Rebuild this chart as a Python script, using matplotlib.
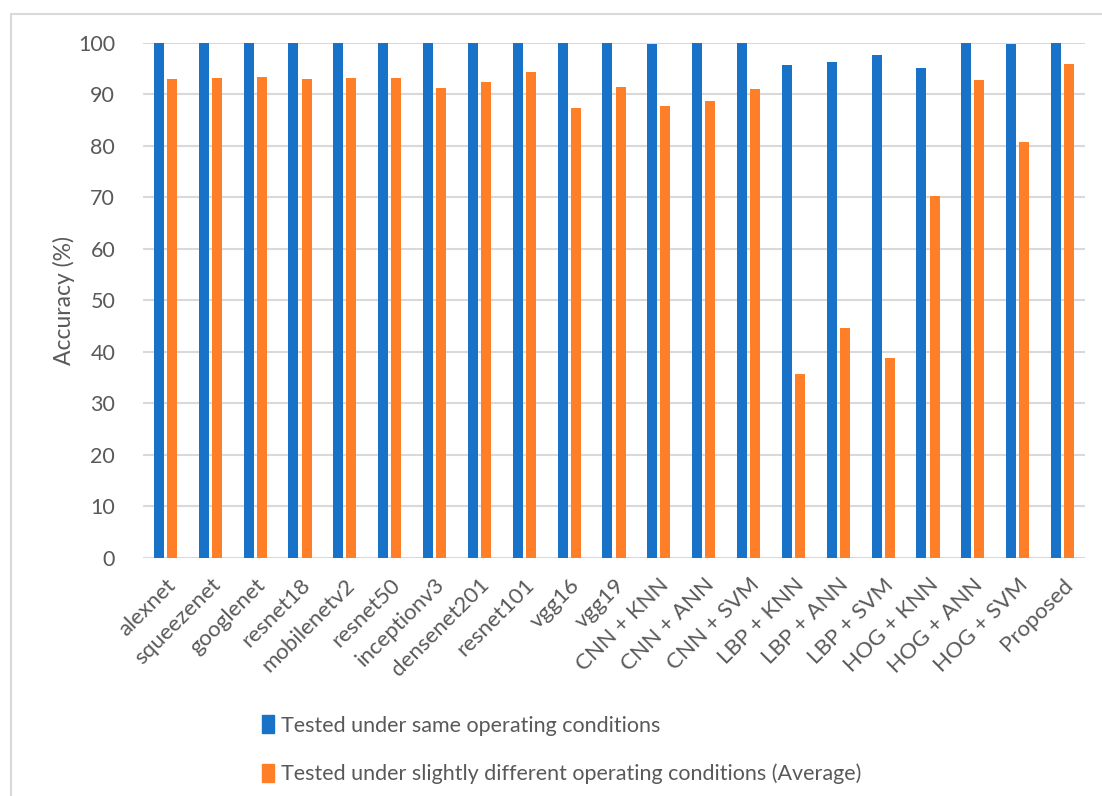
import matplotlib.pyplot as plt
import numpy as np
from matplotlib.patches import Rectangle, Patch

methods = ['alexnet', 'squeezenet', 'googlenet', 'resnet18', 'mobilenetv2',
           'resnet50', 'inceptionv3', 'densenet201', 'resnet101', 'vgg16',
           'vgg19', 'CNN + KNN', 'CNN + ANN', 'CNN + SVM', 'LBP + KNN',
           'LBP + ANN', 'LBP + SVM', 'HOG + KNN', 'HOG + ANN', 'HOG + SVM',
           'Proposed']
same_cond = [100, 100, 100, 100, 100, 100, 100, 100, 100, 100, 100, 99.7,
             100, 100, 95.7, 96.3, 97.7, 95.0, 100, 99.7, 100]
diff_cond = [93.0, 93.1, 93.3, 92.9, 93.2, 93.1, 91.3, 92.4, 94.3, 87.3, 91.4,
             87.8, 88.7, 91.1, 35.7, 44.6, 38.8, 70.3, 92.8, 80.7, 95.8]
yticks = [0, 10, 20, 30, 40, 50, 60, 70, 80, 90, 100]

label_same = 'Tested under same operating conditions'
label_diff = 'Tested under slightly different operating conditions (Average)'


def main():
    plt.rcParams['font.family'] = ['Lato', 'DejaVu Sans']
    gray = '#595959'
    blue, orange = '#1772c8', '#fe7f27'

    W, H = 1102, 796
    fig = plt.figure(figsize=(W / 100, H / 100), dpi=100)
    ax = fig.add_axes([143 / W, 1 - 558 / H, (1085 - 143) / W, (558 - 42.7) / H])

    # chart area border
    fig.add_artist(Rectangle((11 / W, -0.05), 1.1, 1 - 14 / H + 0.05,
                             transform=fig.transFigure, fill=False,
                             edgecolor='#d9d9d9', linewidth=1.5))

    x = np.arange(len(methods))
    bw, gap = 0.223, 0.067
    off = (bw + gap) / 2
    ax.bar(x - off, same_cond, bw, color=blue, zorder=3)
    ax.bar(x + off, diff_cond, bw, color=orange, zorder=3)

    for t in yticks:
        ax.axhline(t, color='#d9d9d9', linewidth=1.5, zorder=1)

    ax.set_xlim(-0.5, len(methods) - 0.5)
    ax.set_ylim(0, 100)
    ax.set_yticks(yticks)
    ax.set_xticks(x)
    ax.set_xticklabels(methods, rotation=45, ha='right', va='top',
                       rotation_mode='anchor')
    ax.tick_params(axis='y', length=0, pad=20, labelsize=15.5, labelcolor=gray)
    ax.tick_params(axis='x', length=0, pad=12, labelsize=16, labelcolor=gray)
    for s in ax.spines.values():
        s.set_visible(False)
    ax.set_ylabel('Accuracy (%)', fontsize=16.5, color=gray, labelpad=2)

    handles = [Patch(color=blue), Patch(color=orange)]
    fig.legend(handles, [label_same, label_diff], loc='upper left',
               bbox_to_anchor=(243 / W, 1 - 696 / H), frameon=False,
               fontsize=15.5, labelcolor=gray, handlelength=0.55,
               handleheight=0.9, handletextpad=0.3, labelspacing=1.3)

    plt.savefig('out.png', dpi=100)


if __name__ == "__main__":
    main()
